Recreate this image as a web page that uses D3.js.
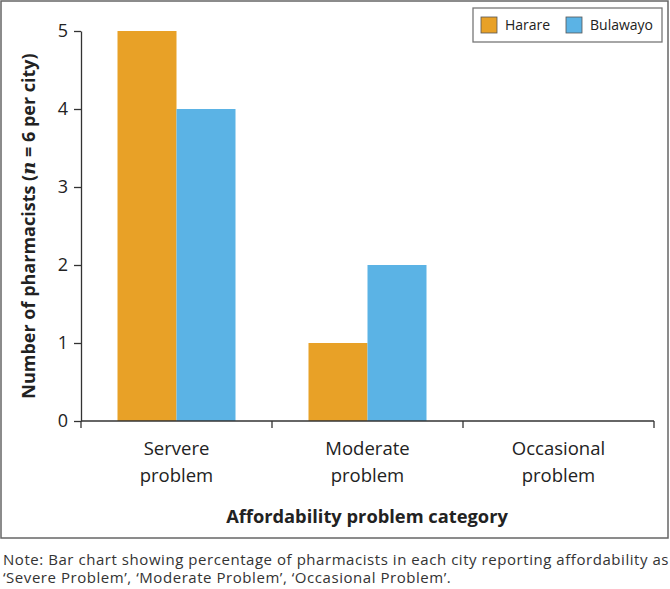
<!DOCTYPE html>
<meta charset="utf-8">
<style>
body { margin: 0; background: #fff; }
text { font-family: "Open Sans", sans-serif; fill: #222; }
.axis path, .axis line { stroke: #333; stroke-width: 1.3; }
</style>
<body>
<script src="https://d3js.org/d3.v7.min.js"></script>
<script>

var categories = ["Servere problem", "Moderate problem", "Occasional problem"],
	series = ["Harare", "Bulawayo"],
	harare = [5, 1, 0],
	bulawayo = [4, 2, 0],
	yTicks = [0, 1, 2, 3, 4, 5],
	colors = ["#E8A127", "#5BB3E5"];

var width = 670,
	height = 589,
	svg = d3.select("body").append("svg")
		.attr("width", width)
		.attr("height", height);

// outer frame
svg.append("rect")
	.attr("x", 1).attr("y", 1)
	.attr("width", 667).attr("height", 537)
	.attr("fill", "none")
	.attr("stroke", "#666")
	.attr("stroke-width", 1.5);

var plotL = 81, plotR = 654, plotT = 31, plotB = 421;

var x = d3.scaleBand().domain(categories).range([plotL, plotR]);
var y = d3.scaleLinear().domain([0, 5]).range([plotB, plotT]);
var barW = 59;
var xs = d3.scaleBand().domain(series).range([-barW, barW]);

var data = categories.map(function(c, i) {
	return { cat: c, values: [harare[i], bulawayo[i]] };
});

var groups = svg.selectAll("g.cat")
	.data(data)
	.enter().append("g")
	.attr("class", "cat")
	.attr("transform", function(d) { return "translate(" + (x(d.cat) + x.bandwidth() / 2) + ",0)"; });

groups.selectAll("rect")
	.data(function(d) { return d.values; })
	.enter().append("rect")
	.attr("x", function(d, i) { return xs(series[i]); })
	.attr("width", xs.bandwidth())
	.attr("y", function(d) { return y(d); })
	.attr("height", function(d) { return plotB - y(d); })
	.attr("fill", function(d, i) { return colors[i]; });

// y axis
var yAxis = svg.append("g")
	.attr("class", "axis")
	.attr("transform", "translate(" + plotL + ",0)")
	.call(d3.axisLeft(y).tickValues(yTicks).tickFormat(d3.format("d")).tickSize(7).tickSizeOuter(0));
yAxis.selectAll("text")
	.attr("x", -13)
	.style("font-family", "'Open Sans', sans-serif")
	.style("font-size", "18px")
	.style("fill", "#222");

// x axis: ticks at band boundaries
var xAxis = svg.append("g")
	.attr("class", "axis");
xAxis.append("line")
	.attr("x1", plotL).attr("x2", plotR)
	.attr("y1", plotB).attr("y2", plotB);
var bounds = categories.map(function(c) { return x(c); }).concat([plotR]);
xAxis.selectAll("line.tick")
	.data(bounds)
	.enter().append("line")
	.attr("class", "tick")
	.attr("x1", function(d) { return d; })
	.attr("x2", function(d) { return d; })
	.attr("y1", plotB).attr("y2", plotB + 7);

var labels = svg.selectAll("text.cat")
	.data(categories)
	.enter().append("text")
	.attr("class", "cat")
	.attr("text-anchor", "middle")
	.style("font-size", "18.5px");
labels.append("tspan")
	.attr("x", function(d) { return x(d) + x.bandwidth() / 2; })
	.attr("y", 455)
	.text(function(d) { return d.split(" ")[0]; });
labels.append("tspan")
	.attr("x", function(d) { return x(d) + x.bandwidth() / 2; })
	.attr("y", 482)
	.text(function(d) { return d.split(" ")[1]; });

// axis titles
svg.append("text")
	.attr("x", 367)
	.attr("y", 523)
	.attr("text-anchor", "middle")
	.style("font-size", "18.3px")
	.style("font-weight", "bold")
	.text("Affordability problem category");

var yt = svg.append("text")
	.attr("transform", "translate(35," + ((plotT + plotB) / 2) + ") rotate(-90)")
	.attr("text-anchor", "middle")
	.style("font-size", "18px")
	.style("font-weight", "bold");
yt.append("tspan").text("Number of pharmacists (");
yt.append("tspan").style("font-family", "'DejaVu Serif', serif").style("font-style", "italic").text("n");
yt.append("tspan").text(" = 6 per city)");

// legend
var legend = svg.append("g");
legend.append("rect")
	.attr("x", 473).attr("y", 8)
	.attr("width", 189).attr("height", 34)
	.attr("fill", "#fff")
	.attr("stroke", "#777")
	.attr("stroke-width", 1.3);
var legendX = [481, 566];
var items = legend.selectAll("g.item")
	.data(series)
	.enter().append("g")
	.attr("class", "item")
	.attr("transform", function(d, i) { return "translate(" + legendX[i] + ",17)"; });
items.append("rect")
	.attr("width", 16).attr("height", 16)
	.attr("fill", function(d, i) { return colors[i]; })
	.attr("stroke", "#555")
	.attr("stroke-width", 0.8);
items.append("text")
	.attr("x", 24).attr("y", 13)
	.style("font-size", "14px")
	.text(function(d) { return d; });

// note
var note = svg.append("text")
	.style("font-size", "15px")
	.style("letter-spacing", "0.55px")
	.style("fill", "#333");
note.append("tspan").attr("x", 3).attr("y", 565)
	.text("Note: Bar chart showing percentage of pharmacists in each city reporting affordability as");
note.append("tspan").attr("x", 3).attr("y", 583)
	.text("\u2018Severe Problem\u2019, \u2018Moderate Problem\u2019, \u2018Occasional Problem\u2019.");

</script>
</body>
</html>
